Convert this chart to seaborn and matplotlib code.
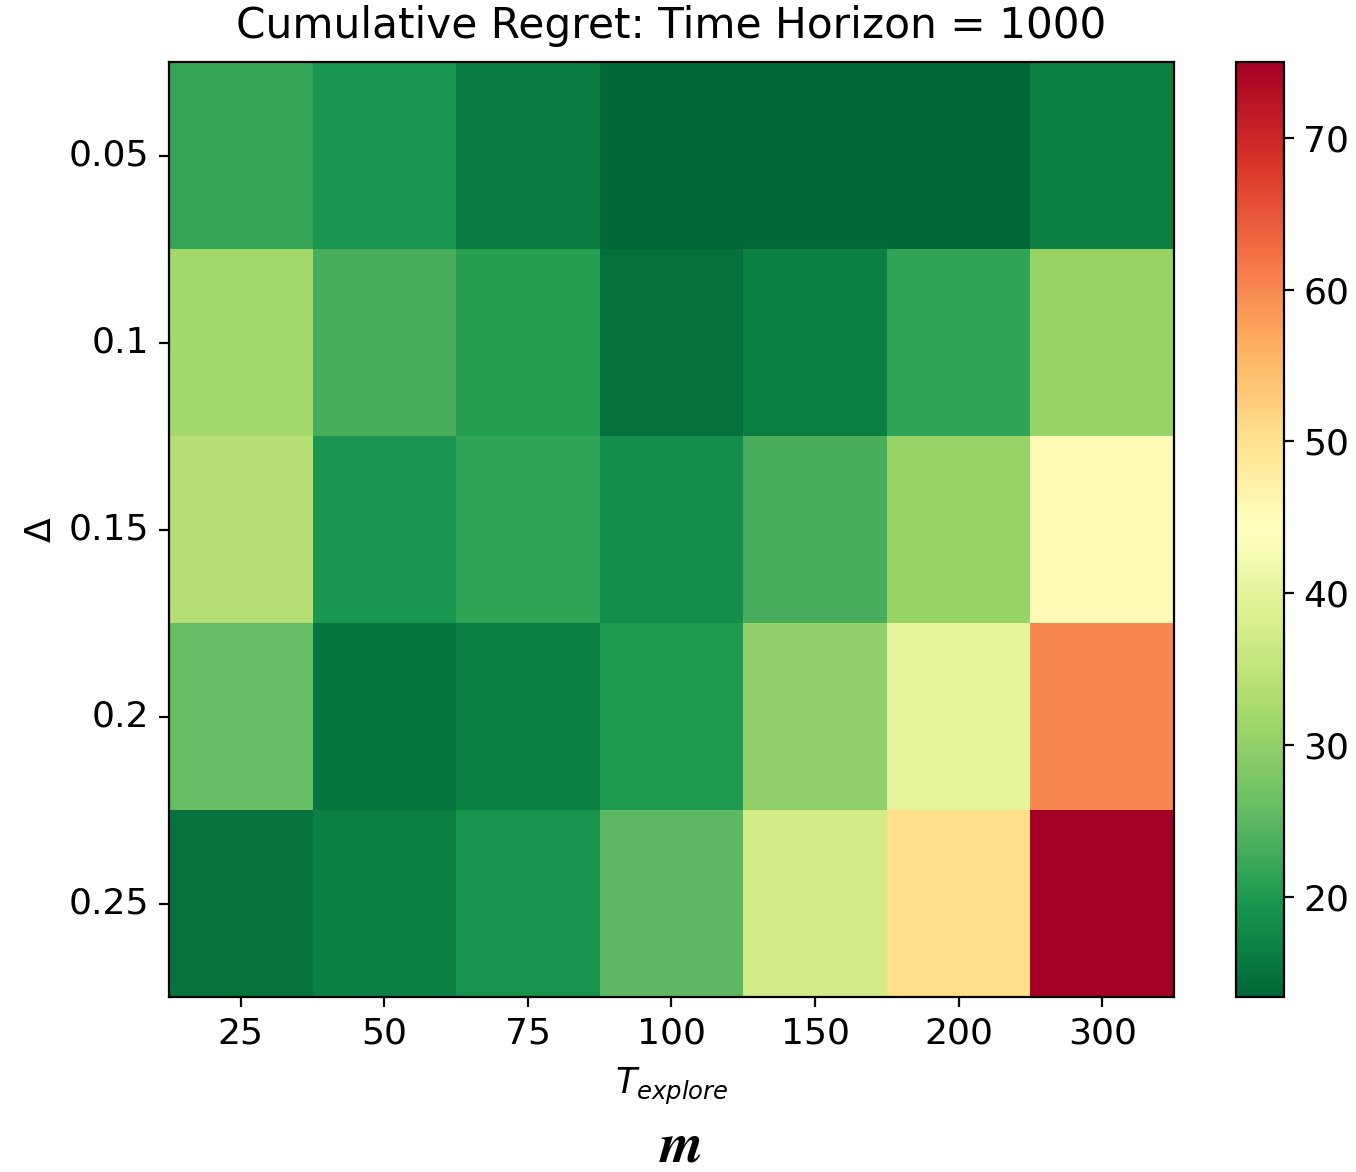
import numpy as np
import pandas as pd
import matplotlib
matplotlib.use("Agg")
import matplotlib.pyplot as plt
import seaborn as sns

# Exploration lengths (columns) and gaps (rows)
t_explore = [25, 50, 75, 100, 150, 200, 300]
deltas = ["0.05", "0.1", "0.15", "0.2", "0.25"]

# Cumulative regret per gap, one list per row
regret_005 = [21.8, 19.2, 16.2, 13.4, 13.5, 13.6, 16.4]
regret_010 = [31.9, 23.3, 20.8, 14.6, 16.3, 21.4, 30.6]
regret_015 = [33.7, 19.6, 21.4, 18.3, 23.3, 30.6, 45.4]
regret_020 = [25.7, 15.3, 16.5, 19.9, 30.0, 39.9, 60.2]
regret_025 = [15.0, 16.5, 19.0, 25.1, 37.4, 50.4, 75.0]

data = pd.DataFrame(
    [regret_005, regret_010, regret_015, regret_020, regret_025],
    index=deltas, columns=t_explore,
)

plt.rcParams["font.size"] = 13

fig = plt.figure(figsize=(6.78, 5.86), dpi=200)
ax = fig.add_axes([0.1246, 0.1493, 0.7412, 0.7978])
cax = fig.add_axes([0.9115, 0.1493, 0.0354, 0.7978])

sns.heatmap(data, cmap="RdYlGn_r", ax=ax, cbar_ax=cax, linewidths=0)

for sp in ax.spines.values():
    sp.set_visible(True)
    sp.set_color("black")
    sp.set_linewidth(0.8)
cax.yaxis.set_ticks([20, 30, 40, 50, 60, 70])
cb = ax.collections[0].colorbar
cb.outline.set_visible(True)
cb.outline.set_edgecolor("black")
cb.outline.set_linewidth(0.8)

ax.tick_params(axis="both", length=3.5, width=0.8, labelsize=13)
cax.tick_params(length=3.5, width=0.8, labelsize=13)
ax.set_yticklabels(deltas, rotation=0)
ax.set_xticklabels([str(t) for t in t_explore], rotation=0)

ax.set_title("Cumulative Regret: Time Horizon = 1000", fontsize=15.2, pad=8.6)
ax.set_xlabel(r"$T_{explore}$", fontsize=12.5, labelpad=5.5)
ax.set_ylabel(r"$\Delta$", fontsize=13)

fig.text(0.502, 0.009, r"$\boldsymbol{m}$", ha="center", va="baseline",
         fontsize=20, math_fontfamily="stix")

fig.savefig("out.png", dpi=200)
